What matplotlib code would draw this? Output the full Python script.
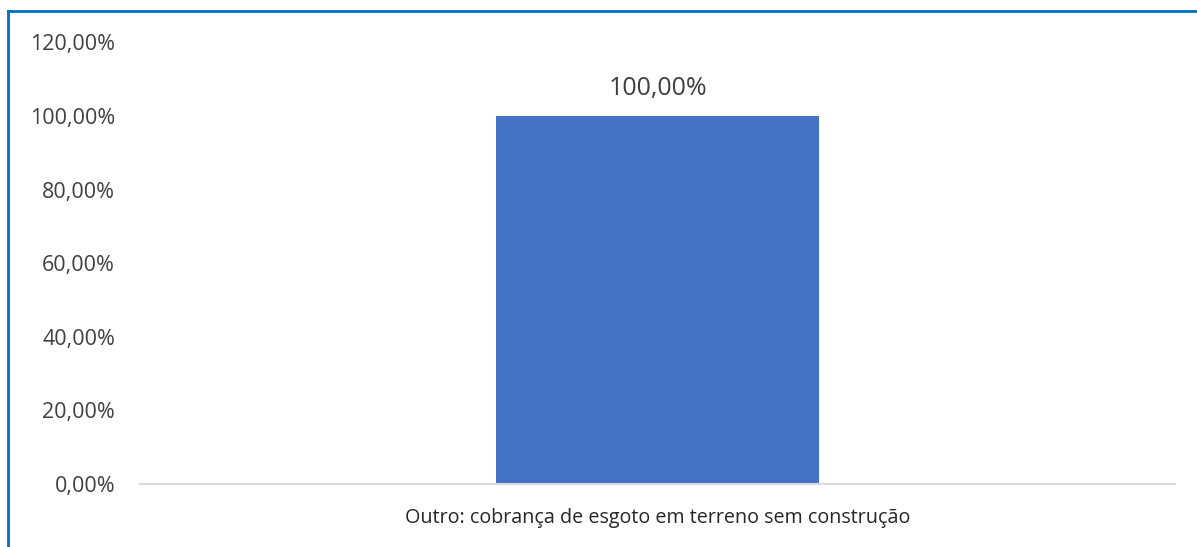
import matplotlib
matplotlib.use("Agg")
import matplotlib.pyplot as plt
from matplotlib.lines import Line2D
from matplotlib.ticker import FuncFormatter

# data
categories = ["Outro: cobrança de esgoto em terreno sem construção"]
values = [100.0]
y_ticks = [0, 20, 40, 60, 80, 100, 120]

plt.rcParams["font.family"] = ["Open Sans", "DejaVu Sans"]

fig = plt.figure(figsize=(11.97, 5.47), dpi=100)
ax = fig.add_axes([0.117, 0.1152, 0.8647, 0.8073])

bars = ax.bar(range(len(categories)), values, width=0.312, color="#4472C4")
ax.set_xlim(-0.5, len(categories) - 0.5)
ax.set_ylim(0, 120)
ax.set_yticks(y_ticks)
ax.yaxis.set_major_formatter(
    FuncFormatter(lambda v, p: f"{v:.2f}".replace(".", ",") + "%")
)
ax.set_xticks(range(len(categories)))
ax.set_xticklabels(categories)

for b, v in zip(bars, values):
    ax.annotate(
        f"{v:.2f}".replace(".", ",") + "%",
        (b.get_x() + b.get_width() / 2, v),
        xytext=(0, 11), textcoords="offset points",
        ha="center", va="bottom", fontsize=18, color="#404040",
    )

for s in ["top", "right", "left"]:
    ax.spines[s].set_visible(False)
ax.spines["bottom"].set_color("#D9D9D9")
ax.spines["bottom"].set_linewidth(1.5)
ax.tick_params(axis="y", length=0, labelsize=15.5, labelcolor="#404040", pad=18)
ax.tick_params(axis="x", length=0, labelsize=14.2, labelcolor="#262626", pad=17)

# blue frame (top and left edges visible)
fig.add_artist(Line2D([8 / 1197, 8 / 1197], [0, 1 - 11 / 547],
                      transform=fig.transFigure, color="#0070C0", lw=2))
fig.add_artist(Line2D([8 / 1197, 1], [1 - 11 / 547, 1 - 11 / 547],
                      transform=fig.transFigure, color="#0070C0", lw=2))

fig.savefig("out.png", dpi=100)
